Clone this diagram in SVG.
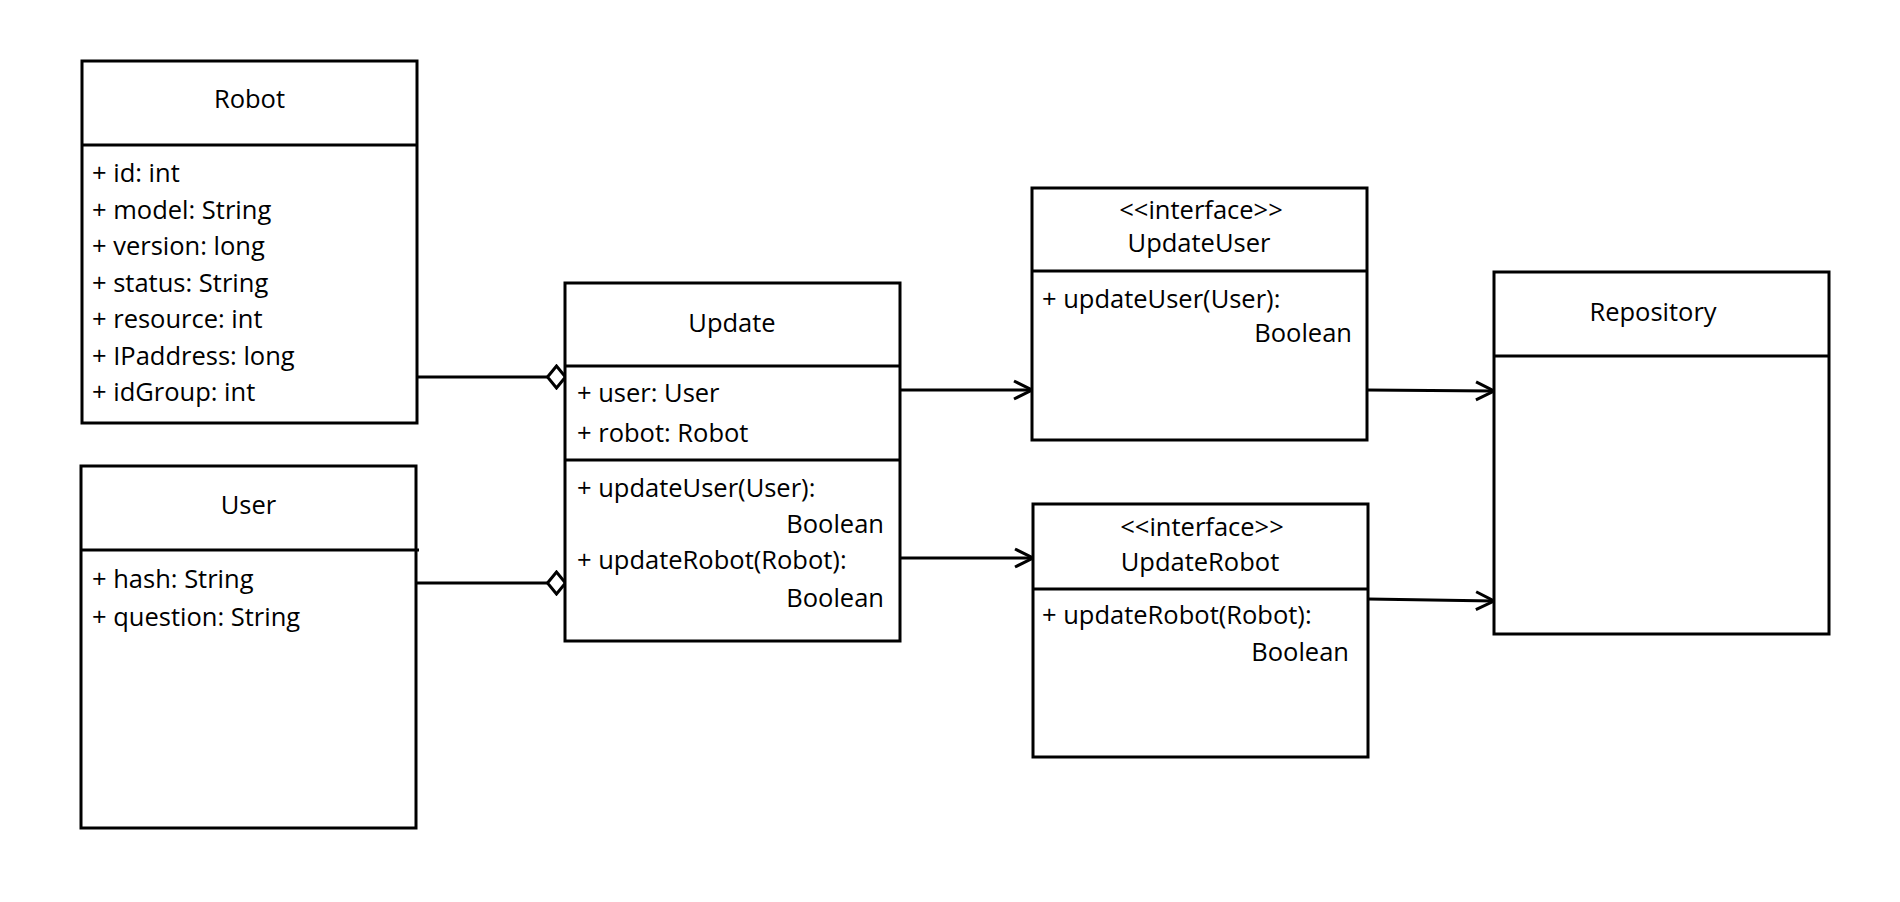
<svg xmlns="http://www.w3.org/2000/svg" width="1900" height="902" viewBox="0 0 1900 902">
<style>
.box{fill:#fff;stroke:#000;stroke-width:3}
.sep{stroke:#000;stroke-width:3}
.t{font-family:"Open Sans","Noto Sans","DejaVu Sans",sans-serif;font-size:25.5px;fill:#000}
.c{text-anchor:middle}
.e{text-anchor:end}
.conn{stroke:#000;stroke-width:3;fill:none}
</style>
<defs>
<marker id="diamond" viewBox="0 0 22 26" refX="20.5" refY="13" markerWidth="22" markerHeight="26" markerUnits="userSpaceOnUse" orient="auto">
<path d="M2,13 L11,2 L20,13 L11,24 Z" fill="#fff" stroke="#000" stroke-width="3"/>
</marker>
<marker id="open" viewBox="0 0 22 22" refX="19" refY="11" markerWidth="22" markerHeight="22" markerUnits="userSpaceOnUse" orient="auto">
<path d="M1,2 L19,11 L1,20" fill="none" stroke="#000" stroke-width="3"/>
</marker>
</defs>
<rect width="1900" height="902" fill="#fff"/>

<g id="connectors">
<line class="conn" x1="417" y1="377" x2="566" y2="377" marker-end="url(#diamond)"/>
<line class="conn" x1="416" y1="583" x2="566" y2="583" marker-end="url(#diamond)"/>
<line class="conn" x1="900" y1="390" x2="1032" y2="390" marker-end="url(#open)"/>
<line class="conn" x1="900" y1="558" x2="1033" y2="558" marker-end="url(#open)"/>
<line class="conn" x1="1367" y1="390" x2="1494" y2="391" marker-end="url(#open)"/>
<line class="conn" x1="1368" y1="599" x2="1494" y2="601" marker-end="url(#open)"/>
</g>

<g id="Robot">
<rect class="box" x="82" y="61" width="335" height="362"/>
<line class="sep" x1="82" y1="145" x2="417" y2="145"/>
<text class="t c" x="249.5" y="108">Robot</text>
<text class="t" x="92" y="182">+ id: int</text>
<text class="t" x="92" y="218.5">+ model: String</text>
<text class="t" x="92" y="255">+ version: long</text>
<text class="t" x="92" y="291.5">+ status: String</text>
<text class="t" x="92" y="328">+ resource: int</text>
<text class="t" x="92" y="364.5">+ IPaddress: long</text>
<text class="t" x="92" y="401">+ idGroup: int</text>
</g>

<g id="User">
<rect class="box" x="81" y="466" width="335" height="362"/>
<line class="sep" x1="81" y1="550" x2="419" y2="550"/>
<text class="t c" x="248.5" y="514">User</text>
<text class="t" x="92" y="588">+ hash: String</text>
<text class="t" x="92" y="626">+ question: String</text>
</g>

<g id="Update">
<rect class="box" x="565" y="283" width="335" height="358"/>
<line class="sep" x1="565" y1="366" x2="900" y2="366"/>
<line class="sep" x1="565" y1="460" x2="900" y2="460"/>
<text class="t c" x="732" y="332">Update</text>
<text class="t" x="577" y="402">+ user: User</text>
<text class="t" x="577" y="442">+ robot: Robot</text>
<text class="t" x="577" y="497">+ updateUser(User):</text>
<text class="t e" x="884" y="533">Boolean</text>
<text class="t" x="577" y="569">+ updateRobot(Robot):</text>
<text class="t e" x="884" y="607">Boolean</text>
</g>

<g id="UpdateUser">
<rect class="box" x="1032" y="188" width="335" height="252"/>
<line class="sep" x1="1032" y1="271" x2="1367" y2="271"/>
<text class="t c" x="1201" y="219">&lt;&lt;interface&gt;&gt;</text>
<text class="t c" x="1199" y="252">UpdateUser</text>
<text class="t" x="1042" y="308">+ updateUser(User):</text>
<text class="t e" x="1352" y="342">Boolean</text>
</g>

<g id="UpdateRobot">
<rect class="box" x="1033" y="504" width="335" height="253"/>
<line class="sep" x1="1033" y1="589" x2="1368" y2="589"/>
<text class="t c" x="1202" y="536">&lt;&lt;interface&gt;&gt;</text>
<text class="t c" x="1200" y="571">UpdateRobot</text>
<text class="t" x="1042" y="624">+ updateRobot(Robot):</text>
<text class="t e" x="1349" y="661">Boolean</text>
</g>

<g id="Repository">
<rect class="box" x="1494" y="272" width="335" height="362"/>
<line class="sep" x1="1494" y1="356" x2="1829" y2="356"/>
<text class="t c" x="1653" y="321">Repository</text>
</g>
</svg>
